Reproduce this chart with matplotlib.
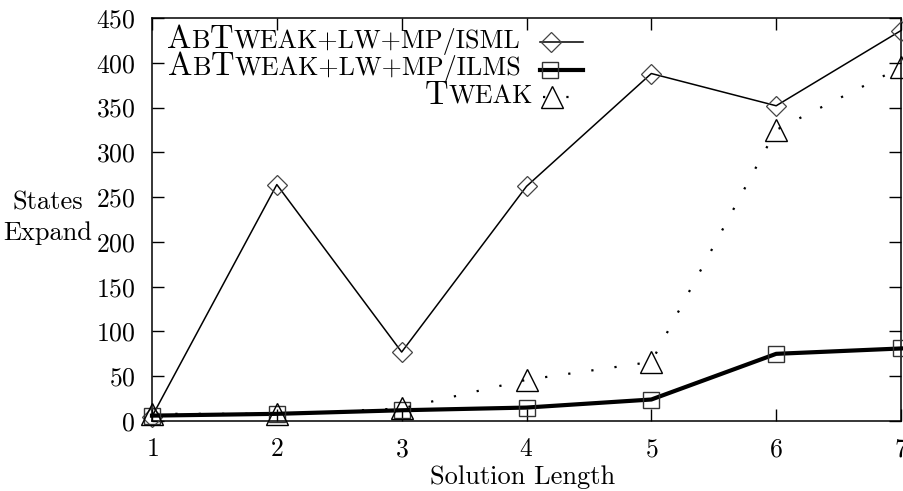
import matplotlib
matplotlib.use("Agg")
import matplotlib.pyplot as plt
from matplotlib.lines import Line2D

plt.rcParams['font.family'] = ['cmr10', 'DejaVu Serif']
plt.rcParams['axes.formatter.use_mathtext'] = True

# ---- data ----
solution_length = [1, 2, 3, 4, 5, 6, 7]
isml = [5, 264, 77, 262, 388, 352, 436]
ilms = [6, 8, 12, 15, 24, 75, 81]
tweak = [8, 8, 14, 46, 66, 325, 395]
xticks = [1, 2, 3, 4, 5, 6, 7]
yticks = [0, 50, 100, 150, 200, 250, 300, 350, 400, 450]

W, H = 904, 491
fig = plt.figure(figsize=(W / 100, H / 100), dpi=100)

def fx(px):
    return px / W

def fy(py):
    return 1 - py / H

ax = fig.add_axes([fx(152), fy(421), fx(901) - fx(152), fy(18) - fy(421)])

dot_style = (0, (1, 9.5))

ax.plot(solution_length, isml, color='black', lw=1.1, marker='D', ms=10,
        mfc='none', mec='#444444', mew=0.9, clip_on=False, zorder=3)
ax.plot(solution_length, ilms, color='black', lw=3.0, marker='s', ms=11.5,
        mfc='none', mec='#333333', mew=1.0, clip_on=False, zorder=3)
ax.plot(solution_length, tweak, color='black', lw=1.6, ls=dot_style,
        dash_capstyle='butt', marker='^', ms=16.5, mfc='none', mec='black',
        mew=1.0, clip_on=False, zorder=3)

ax.set_xlim(1, 7)
ax.set_ylim(0, 450)
ax.set_xticks(xticks)
ax.set_yticks(yticks)
ax.tick_params(axis='both', direction='in', length=8.5, width=1.0,
               top=True, right=True, labelsize=18.5)
ax.tick_params(axis='x', pad=12)
ax.tick_params(axis='y', pad=12)
for s in ax.spines.values():
    s.set_linewidth(1.1)

# axis labels
fig.text(fx(523), fy(484), 'Solution Length', fontsize=19, ha='center', va='baseline')
fig.text(fx(48), fy(210), 'States', fontsize=19, ha='center', va='baseline')
fig.text(fx(3), fy(240), 'Expand', fontsize=19, ha='left', va='baseline')

# legend (manual, small caps emulation)
renderer = fig.canvas.get_renderer()
LARGE, SMALL = 23.5, 18.8

def draw_row(pieces, right_px, base_px):
    texts = []
    for s, size in pieces:
        t = fig.text(0, 0, s, fontsize=size, ha='left', va='baseline')
        texts.append(t)
    widths = [t.get_window_extent(renderer).width for t in texts]
    x = right_px - sum(widths)
    for t, w in zip(texts, widths):
        t.set_position((fx(x), fy(base_px)))
        x += w

legend_rows = [
    [('A', LARGE), ('B', SMALL), ('T', LARGE), ('WEAK+LW+MP/ISML', SMALL)],
    [('A', LARGE), ('B', SMALL), ('T', LARGE), ('WEAK+LW+MP/ILMS', SMALL)],
    [('T', LARGE), ('WEAK', SMALL)],
]
draw_row(legend_rows[0], 520, 48)
draw_row(legend_rows[1], 521, 75)
draw_row(legend_rows[2], 533, 104)

# legend samples
fig.add_artist(Line2D([fx(540), fx(583)], [fy(42), fy(42)], color='black', lw=1.1))
fig.add_artist(Line2D([fx(551)], [fy(42)], marker='D', ms=10, mfc='none',
                      mec='#444444', mew=0.9, ls='none'))
fig.add_artist(Line2D([fx(540), fx(583)], [fy(70), fy(70)], color='black', lw=3.0))
fig.add_artist(Line2D([fx(550)], [fy(70)], marker='s', ms=11.5, mfc='none',
                      mec='#333333', mew=1.0, ls='none'))
fig.add_artist(Line2D([fx(543), fx(585)], [fy(97), fy(97)], color='black', lw=1.6,
                      ls=dot_style, dash_capstyle='butt'))
fig.add_artist(Line2D([fx(552)], [fy(97)], marker='^', ms=16.5, mfc='none',
                      mec='black', mew=1.0, ls='none'))

fig.savefig('out.png', dpi=100)
